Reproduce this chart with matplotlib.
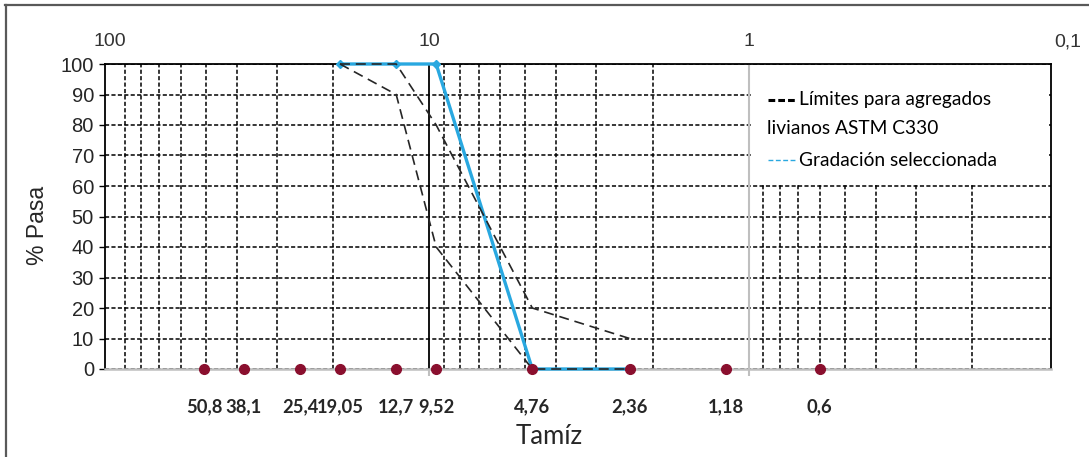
import matplotlib
matplotlib.use("Agg")
import matplotlib.pyplot as plt
from matplotlib.lines import Line2D
from matplotlib.patches import Rectangle
from matplotlib.ticker import FixedLocator, NullFormatter, LogLocator
import matplotlib.transforms as mtransforms

# ---- data ----
sieve_sizes = [50.8, 38.1, 25.4, 19.05, 12.7, 9.52, 4.76, 2.36, 1.18, 0.6]
sieve_labels = ["50,8", "38,1", "25,4", "19,05", "12,7", "9,52", "4,76", "2,36", "1,18", "0,6"]
sieve_values = [0, 0, 0, 0, 0, 0, 0, 0, 0, 0]

limit_sizes = [19.05, 12.7, 9.52, 4.76, 2.36]
upper_limit = [100, 100, 80, 20, 10]
lower_limit = [100, 90, 40, 0, 0]

selected_sizes = [19.05, 12.7, 9.52, 4.76, 2.36]
selected_pass = [100, 100, 100, 0, 0]

top_ticks = [100, 10, 1, 0.1]
top_labels = ["100", "10", "1", "0,1"]
y_ticks = [0, 10, 20, 30, 40, 50, 60, 70, 80, 90, 100]

W, H = 1089, 457
fig = plt.figure(figsize=(W / 100, H / 100), dpi=100)
L, R, T, B = 105, 1051, 64, 369
ax = fig.add_axes([L / W, 1 - B / H, (R - L) / W, (B - T) / H])

ax.set_xscale("log")
ax.set_xlim(10 ** (1 + (429 - L) / 319), 10 ** (-(R - 749) / 319))
ax.set_ylim(0, 100)

blue = "#29A8E0"
maroon = "#8A0F2E"
gridkw = dict(color="black", lw=1.1, linestyle=(0, (2.7, 1.5)))

# gridlines
ax.xaxis.set_major_locator(FixedLocator([10, 1]))
ax.xaxis.set_minor_locator(LogLocator(base=10, subs=[2, 3, 4, 5, 6, 7, 8, 9]))
ax.xaxis.set_minor_formatter(NullFormatter())
ax.xaxis.set_major_formatter(NullFormatter())
ax.grid(True, which="minor", axis="x", **gridkw)
ax.yaxis.set_major_locator(FixedLocator(y_ticks))
ax.grid(True, which="major", axis="y", **gridkw)
ax.set_axisbelow(True)
ax.axvline(10, color="black", lw=1.3, zorder=1.5)
ax.axvline(1, color="#BFBFBF", lw=1.5, zorder=1.5)

# spines & ticks
for s in ["left", "top", "right"]:
    ax.spines[s].set_color("black")
    ax.spines[s].set_linewidth(1.3)
ax.spines["bottom"].set_color("#BFBFBF")
ax.spines["bottom"].set_linewidth(1.8)
ax.tick_params(axis="x", which="major", length=5, color="#BFBFBF", width=1.5, direction="out")
ax.tick_params(axis="x", which="minor", length=0)
ax.tick_params(axis="y", length=4, color="black", width=1, pad=4,
               labelsize=14.5, labelcolor="#262626")
for lab in ax.get_yticklabels():
    lab.set_fontfamily("Liberation Sans")

# data
ax.plot(selected_sizes, selected_pass, color=blue, lw=2.4, marker="D", ms=4,
        zorder=3, clip_on=False)
ax.plot(limit_sizes, upper_limit, color="#262626", lw=1.2,
        linestyle=(0, (6, 3.5)), zorder=4, clip_on=False)
ax.plot(limit_sizes, lower_limit, color="#262626", lw=1.2,
        linestyle=(0, (6, 3.5)), zorder=4, clip_on=False)
ax.plot(sieve_sizes, sieve_values, linestyle="none", marker="o", ms=7,
        color=maroon, zorder=5, clip_on=False)

# labels
trans = mtransforms.blended_transform_factory(ax.transData, ax.transAxes)
for x, t in zip(sieve_sizes, sieve_labels):
    ax.text(x, (B - 407) / (B - T), t, transform=trans, ha="center", va="center",
            fontsize=13.2, fontweight="bold", family="Lato", color="#262626")
for x, t in zip(top_ticks, top_labels):
    ax.text(x, (B - 42) / (B - T), t, transform=trans, ha="center", va="center",
            fontsize=14, family="Liberation Sans", color="#333333")

fig.text(37 / W, 1 - 225 / H, "% Pasa", rotation=90, ha="center", va="center",
         fontsize=16.5, family="Liberation Sans", color="#262626")
fig.text(549 / W, 1 - 437 / H, "Tamíz", ha="center", va="center",
         fontsize=18.5, family="Lato", color="#262626")

# legend (manual)
def fx(px):
    return (px - L) / (R - L)

def fy(py):
    return (B - py) / (B - T)

ax.add_patch(Rectangle((fx(752), fy(183)), fx(1049) - fx(752), fy(65) - fy(183),
                       transform=ax.transAxes, facecolor="white", edgecolor="none", zorder=2.5))
ax.add_line(Line2D([fx(768), fx(795)], [fy(100), fy(100)], transform=ax.transAxes,
                   color="black", lw=2.2, linestyle=(0, (2.2, 1)), zorder=6))
legkw = dict(transform=ax.transAxes, va="center", fontsize=13.8, family="Lato",
             color="black", zorder=6)
ax.text(fx(799), fy(100), "Límites para agregados", ha="left", **legkw)
ax.text(fx(767), fy(129), "livianos ASTM C330", ha="left", **legkw)
ax.add_line(Line2D([fx(768), fx(795)], [fy(160), fy(160)], transform=ax.transAxes,
                   color=blue, lw=1.0, linestyle=(0, (3.5, 1.8)), zorder=6))
ax.text(fx(799), fy(160), "Gradación seleccionada", ha="left", **legkw)

# chart border
fig.add_artist(Line2D([5 / W, 1], [1 - 5 / H, 1 - 5 / H], transform=fig.transFigure,
                      color="#595959", lw=1.6))
fig.add_artist(Line2D([6 / W, 6 / W], [0, 1 - 5 / H], transform=fig.transFigure,
                      color="#595959", lw=1.6))

fig.savefig("out.png", dpi=100)
